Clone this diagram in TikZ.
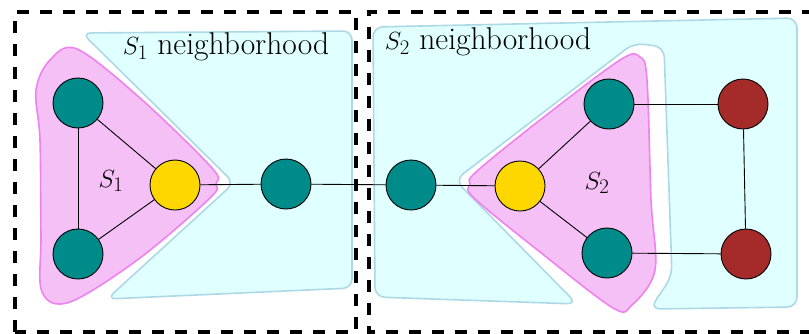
\documentclass[tikz,border=0pt]{standalone}
\usetikzlibrary{calc}
\definecolor{pinkfill}{RGB}{245,192,245}
\definecolor{pinkline}{RGB}{238,130,238}
\definecolor{cyanfill}{RGB}{224,255,255}
\definecolor{cyanline}{RGB}{173,216,230}
\definecolor{tealc}{RGB}{0,139,139}
\definecolor{goldc}{RGB}{255,215,0}
\definecolor{redc}{RGB}{165,42,42}
\tikzset{
  vtx/.style={circle,draw=black,line width=0.9pt,minimum size=50pt,inner sep=0pt},
  tealv/.style={vtx,fill=tealc},
  goldv/.style={vtx,fill=goldc},
  redv/.style={vtx,fill=redc},
  setreg/.style={fill=pinkfill,draw=pinkline,line width=1.6pt},
  nbreg/.style={fill=cyanfill,draw=cyanline,line width=1.6pt},
  boxline/.style={draw=black,line width=3.4pt,dash pattern=on 12pt off 11pt},
  edge/.style={draw=black,line width=0.9pt},
  lbl/.style={font=\fontsize{31.5}{36}\selectfont,inner sep=0pt}
}
\begin{document}
\begin{tikzpicture}[x=1pt,y=-1pt]
\useasboundingbox (0,0) rectangle (809,333);
% S1 neighborhood
\path[nbreg,rounded corners=9pt] (82,33) -- (352,31) -- (352,288) -- (107,299) -- (234,183) -- cycle;
% S2 neighborhood
\path[nbreg,rounded corners=10pt] (577,304) -- (375,297) -- (373,27) -- (797,18) -- (797,307) -- (650,309) -- (672,276) -- (664,47) -- (634,43) -- (455,180) -- cycle;
% S1 set
\path[setreg] plot[smooth cycle,tension=0.55] coordinates {(77,49) (140,98) (212,168) (216,184) (210,198) (140,258) (70,302) (42,292) (41,235) (40,140) (36,90) (50,60)};
% S2 set
\path[setreg] plot[smooth cycle,tension=0.55] coordinates {(640,57) (647,80) (651,200) (655,270) (632,305) (613,308) (540,252) (474,198) (470,184) (476,172) (540,120) (620,60)};
% dashed boxes
\draw[boxline] (15,332) -- (15,12) -- (356,12) -- (356,332) -- cycle;
\draw[boxline] (812,332) -- (369,332) -- (369,12) -- (812,12);
% nodes
\node[tealv] (a) at (78,103) {};
\node[tealv] (b) at (78,254) {};
\node[goldv] (y1) at (175,185) {};
\node[tealv] (c) at (286,184) {};
\node[tealv] (d) at (411,185) {};
\node[goldv] (y2) at (520,186) {};
\node[tealv] (e) at (609,104) {};
\node[tealv] (f) at (607,253) {};
\node[redv] (r1) at (743,104) {};
\node[redv] (r2) at (746,254) {};
% edges
\draw[edge] (a) -- (b);
\draw[edge] (a) -- (y1);
\draw[edge] (b) -- (y1);
\draw[edge] (y1) -- (c);
\draw[edge] (c) -- (d);
\draw[edge] (d) -- (y2);
\draw[edge] (y2) -- (e);
\draw[edge] (y2) -- (f);
\draw[edge] (e) -- (r1);
\draw[edge] (f) -- (r2);
\draw[edge] (r1) -- (r2);
% labels
\node[lbl] (l1) at (111,181) {$S_1$};
\node[lbl] (l2) at (597,183) {$S_2$};
\node[lbl] (n1) at (226,47) {$S_1$ neighborhood};
\node[lbl] (n2) at (488,42) {$S_2$ neighborhood};
\end{tikzpicture}
\end{document}
